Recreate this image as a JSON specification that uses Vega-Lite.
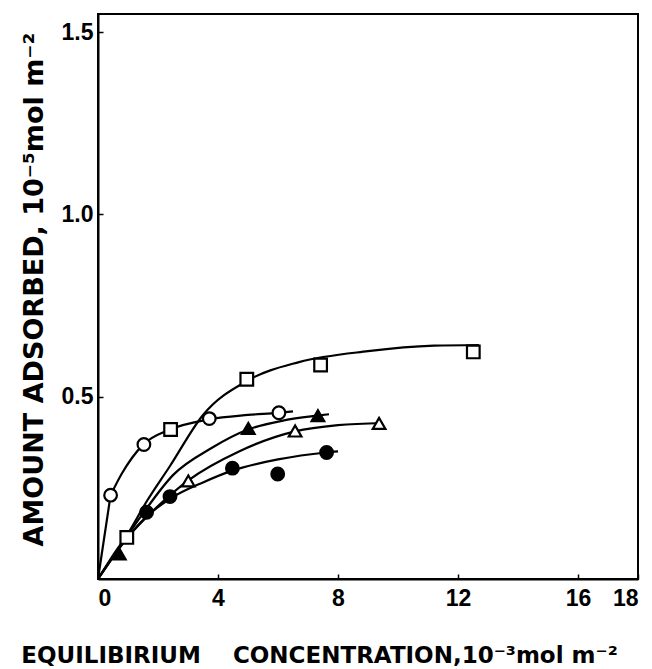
{
  "$schema": "https://vega.github.io/schema/vega-lite/v6.json",
  "width": 540,
  "height": 565,
  "autosize": {"type": "none"},
  "padding": {"left": 98, "top": 14, "right": 14, "bottom": 90},
  "background": "white",
  "config": {
    "view": {"stroke": "black", "strokeWidth": 2},
    "axis": {
      "grid": false,
      "domainColor": "black",
      "domainWidth": 2,
      "tickColor": "black",
      "tickWidth": 1.5,
      "labelColor": "black",
      "labelFont": "Liberation Sans",
      "labelFontSize": 23,
      "labelFontWeight": "bold",
      "titleColor": "black",
      "titleFont": "DejaVu Sans",
      "titleFontSize": 23,
      "titleFontWeight": "bold"
    }
  },
  "datasets": {
    "curves": [
      {"s": "circle_open_start", "x": 0, "y": 0},
      {"s": "circle_open_start", "x": 0.42, "y": 0.23},
      {"s": "circle_open", "x": 0.42, "y": 0.23},
      {"s": "circle_open", "x": 0.8, "y": 0.29},
      {"s": "circle_open", "x": 1.5, "y": 0.368},
      {"s": "circle_open", "x": 2.4, "y": 0.41},
      {"s": "circle_open", "x": 3.7, "y": 0.438},
      {"s": "circle_open", "x": 5.0, "y": 0.45},
      {"s": "circle_open", "x": 6.0, "y": 0.456},
      {"s": "circle_open", "x": 6.5, "y": 0.46},
      {"s": "square_open", "x": 0, "y": 0},
      {"s": "square_open", "x": 0.5, "y": 0.065},
      {"s": "square_open", "x": 1.0, "y": 0.125},
      {"s": "square_open", "x": 1.6, "y": 0.21},
      {"s": "square_open", "x": 2.4, "y": 0.31},
      {"s": "square_open", "x": 3.5, "y": 0.45},
      {"s": "square_open", "x": 5.0, "y": 0.545},
      {"s": "square_open", "x": 6.7, "y": 0.595},
      {"s": "square_open", "x": 9.0, "y": 0.625},
      {"s": "square_open", "x": 11.2, "y": 0.64},
      {"s": "square_open", "x": 12.7, "y": 0.642},
      {"s": "triangle_filled", "x": 0, "y": 0},
      {"s": "triangle_filled", "x": 0.7, "y": 0.085},
      {"s": "triangle_filled", "x": 1.5, "y": 0.18},
      {"s": "triangle_filled", "x": 2.5, "y": 0.285},
      {"s": "triangle_filled", "x": 3.8, "y": 0.36},
      {"s": "triangle_filled", "x": 5.0, "y": 0.41},
      {"s": "triangle_filled", "x": 6.2, "y": 0.435},
      {"s": "triangle_filled", "x": 7.3, "y": 0.448},
      {"s": "triangle_filled", "x": 7.7, "y": 0.452},
      {"s": "triangle_open", "x": 0, "y": 0},
      {"s": "triangle_open", "x": 1.0, "y": 0.115},
      {"s": "triangle_open", "x": 2.0, "y": 0.2},
      {"s": "triangle_open", "x": 3.0, "y": 0.27},
      {"s": "triangle_open", "x": 4.7, "y": 0.35},
      {"s": "triangle_open", "x": 6.57, "y": 0.405},
      {"s": "triangle_open", "x": 8.0, "y": 0.422},
      {"s": "triangle_open", "x": 9.5, "y": 0.428},
      {"s": "circle_filled", "x": 0, "y": 0},
      {"s": "circle_filled", "x": 0.8, "y": 0.095},
      {"s": "circle_filled", "x": 1.6, "y": 0.17},
      {"s": "circle_filled", "x": 2.4, "y": 0.22},
      {"s": "circle_filled", "x": 3.5, "y": 0.265},
      {"s": "circle_filled", "x": 4.5, "y": 0.298},
      {"s": "circle_filled", "x": 6.0, "y": 0.328},
      {"s": "circle_filled", "x": 7.6, "y": 0.347},
      {"s": "circle_filled", "x": 8.0, "y": 0.35}
    ],
    "points": [
      {"s": "circle_open", "x": 0.42, "y": 0.23},
      {"s": "circle_open", "x": 1.53, "y": 0.369},
      {"s": "circle_open", "x": 3.71, "y": 0.44},
      {"s": "circle_open", "x": 6.03, "y": 0.456},
      {"s": "square_open", "x": 0.96, "y": 0.114},
      {"s": "square_open", "x": 2.42, "y": 0.41},
      {"s": "square_open", "x": 4.96, "y": 0.548},
      {"s": "square_open", "x": 7.42, "y": 0.587},
      {"s": "square_open", "x": 12.51, "y": 0.623},
      {"s": "triangle_filled", "x": 0.71, "y": 0.069},
      {"s": "triangle_filled", "x": 5.01, "y": 0.413},
      {"s": "triangle_filled", "x": 7.33, "y": 0.448},
      {"s": "triangle_open", "x": 3.01, "y": 0.269},
      {"s": "triangle_open", "x": 6.57, "y": 0.406},
      {"s": "triangle_open", "x": 9.37, "y": 0.427},
      {"s": "circle_filled", "x": 1.62, "y": 0.183},
      {"s": "circle_filled", "x": 2.4, "y": 0.226},
      {"s": "circle_filled", "x": 4.48, "y": 0.304},
      {"s": "circle_filled", "x": 5.99, "y": 0.288},
      {"s": "circle_filled", "x": 7.62, "y": 0.347}
    ]
  },
  "layer": [
    {
      "data": {"name": "curves"},
      "mark": {"type": "line", "interpolate": "monotone", "color": "black", "strokeWidth": 2.2},
      "encoding": {
        "x": {
          "field": "x",
          "type": "quantitative",
          "scale": {"domain": [0, 18], "nice": false},
          "axis": {
            "values": [0, 4, 8, 12, 16, 18],
            "format": "d",
            "tickSize": -5,
            "labelPadding": 13,
            "title": "EQUILIBIRIUM\u00a0\u00a0\u00a0\u00a0CONCENTRATION,10⁻³mol m⁻²",
            "titleX": 221,
            "titleY": 83,
            "titleBaseline": "alphabetic"
          }
        },
        "y": {
          "field": "y",
          "type": "quantitative",
          "scale": {"domain": [0, 1.55], "nice": false},
          "axis": {
            "values": [0.5, 1.0, 1.5],
            "format": ".1f",
            "tickSize": -5,
            "labelPadding": 10,
            "title": "AMOUNT ADSORBED, 10⁻⁵mol m⁻²",
            "titleFontSize": 27,
            "titleX": -64,
            "titleY": 275,
            "titleBaseline": "middle"
          }
        },
        "detail": {"field": "s"}
      }
    },
    {
      "data": {"name": "points"},
      "mark": {"type": "point", "filled": true, "stroke": "black", "strokeWidth": 2.2, "size": 160, "opacity": 1},
      "encoding": {
        "x": {"field": "x", "type": "quantitative"},
        "y": {"field": "y", "type": "quantitative"},
        "shape": {
          "field": "s",
          "scale": {
            "domain": ["circle_open", "square_open", "triangle_filled", "triangle_open", "circle_filled"],
            "range": ["circle", "square", "triangle-up", "triangle-up", "circle"]
          },
          "legend": null
        },
        "fill": {
          "field": "s",
          "scale": {
            "domain": ["circle_open", "square_open", "triangle_filled", "triangle_open", "circle_filled"],
            "range": ["white", "white", "black", "white", "black"]
          },
          "legend": null
        }
      }
    }
  ]
}
